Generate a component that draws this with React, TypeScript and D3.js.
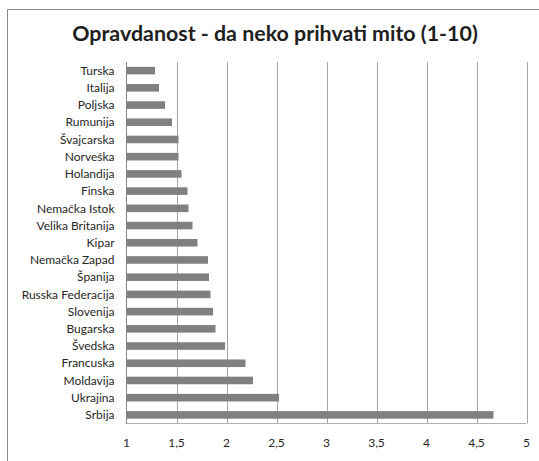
import * as d3 from "d3";

const countries = [
  "Turska", "Italija", "Poljska", "Rumunija", "Švajcarska", "Norveška", "Holandija",
  "Finska", "Nemačka Istok", "Velika Britanija", "Kipar", "Nemačka Zapad", "Španija",
  "Russka Federacija", "Slovenija", "Bugarska", "Švedska", "Francuska", "Moldavija",
  "Ukrajina", "Srbija",
];
const values = [
  1.285, 1.325, 1.385, 1.455, 1.52, 1.52, 1.55,
  1.61, 1.62, 1.66, 1.71, 1.815, 1.825,
  1.84, 1.865, 1.89, 1.985, 2.19, 2.265,
  2.525, 4.67,
];
const ticks = [1, 1.5, 2, 2.5, 3, 3.5, 4, 4.5, 5];
const title = "Opravdanost - da neko prihvati mito (1-10)";

const W = 539;
const H = 461;
const font = "Lato, 'Open Sans', sans-serif";

export default function App() {
  const left = 126.5;
  const right = 526.5;
  const top = 62;
  const bottom = 423.5;

  const x = d3.scaleLinear().domain([1, 5]).range([left, right]);
  const y = d3.scaleBand().domain(countries).range([top, bottom]).paddingInner(0.56).paddingOuter(0.28);

  return (
    <svg width={W} height={H} style={{ position: "absolute", left: 0, top: 0, background: "#fff" }}>
      <rect x={0} y={0} width={W} height={H} fill="#fff" />
      {/* okvir */}
      <path d={`M 7.5 ${H + 5} V 9.5 H ${W + 5}`} fill="none" stroke="#8a8a8a" strokeWidth={1} />
      <text x={275} y={41} textAnchor="middle" fontFamily={font} fontWeight="bold" fontSize={21.4} fill="#1e1e1e">
        {title}
      </text>

      {ticks.slice(1).map((t) => (
        <line key={t} x1={Math.round(x(t)) + 0.5} x2={Math.round(x(t)) + 0.5} y1={top} y2={bottom}
          stroke="#a6a6a6" strokeWidth={1} />
      ))}
      <line x1={left} x2={right} y1={bottom} y2={bottom} stroke="#b0b0b0" strokeWidth={1} />

      {countries.map((c, i) => (
        <rect key={c} x={x(1)} y={y(c)} width={x(values[i]) - x(1)} height={y.bandwidth()} fill="#808080" />
      ))}
      <line x1={left} x2={left} y1={top} y2={bottom + 0.5} stroke="#868686" strokeWidth={1} />

      {countries.map((c) => (
        <text key={c} x={114.5} y={y(c)! + y.bandwidth() / 2} dy="0.35em" textAnchor="end"
          fontFamily={font} fontSize={12} fill="#262626">
          {c}
        </text>
      ))}
      {ticks.map((t) => (
        <text key={t} x={x(t)} y={447} textAnchor="middle" fontFamily={font} fontSize={12} fill="#262626">
          {String(t).replace(".", ",")}
        </text>
      ))}
    </svg>
  );
}
